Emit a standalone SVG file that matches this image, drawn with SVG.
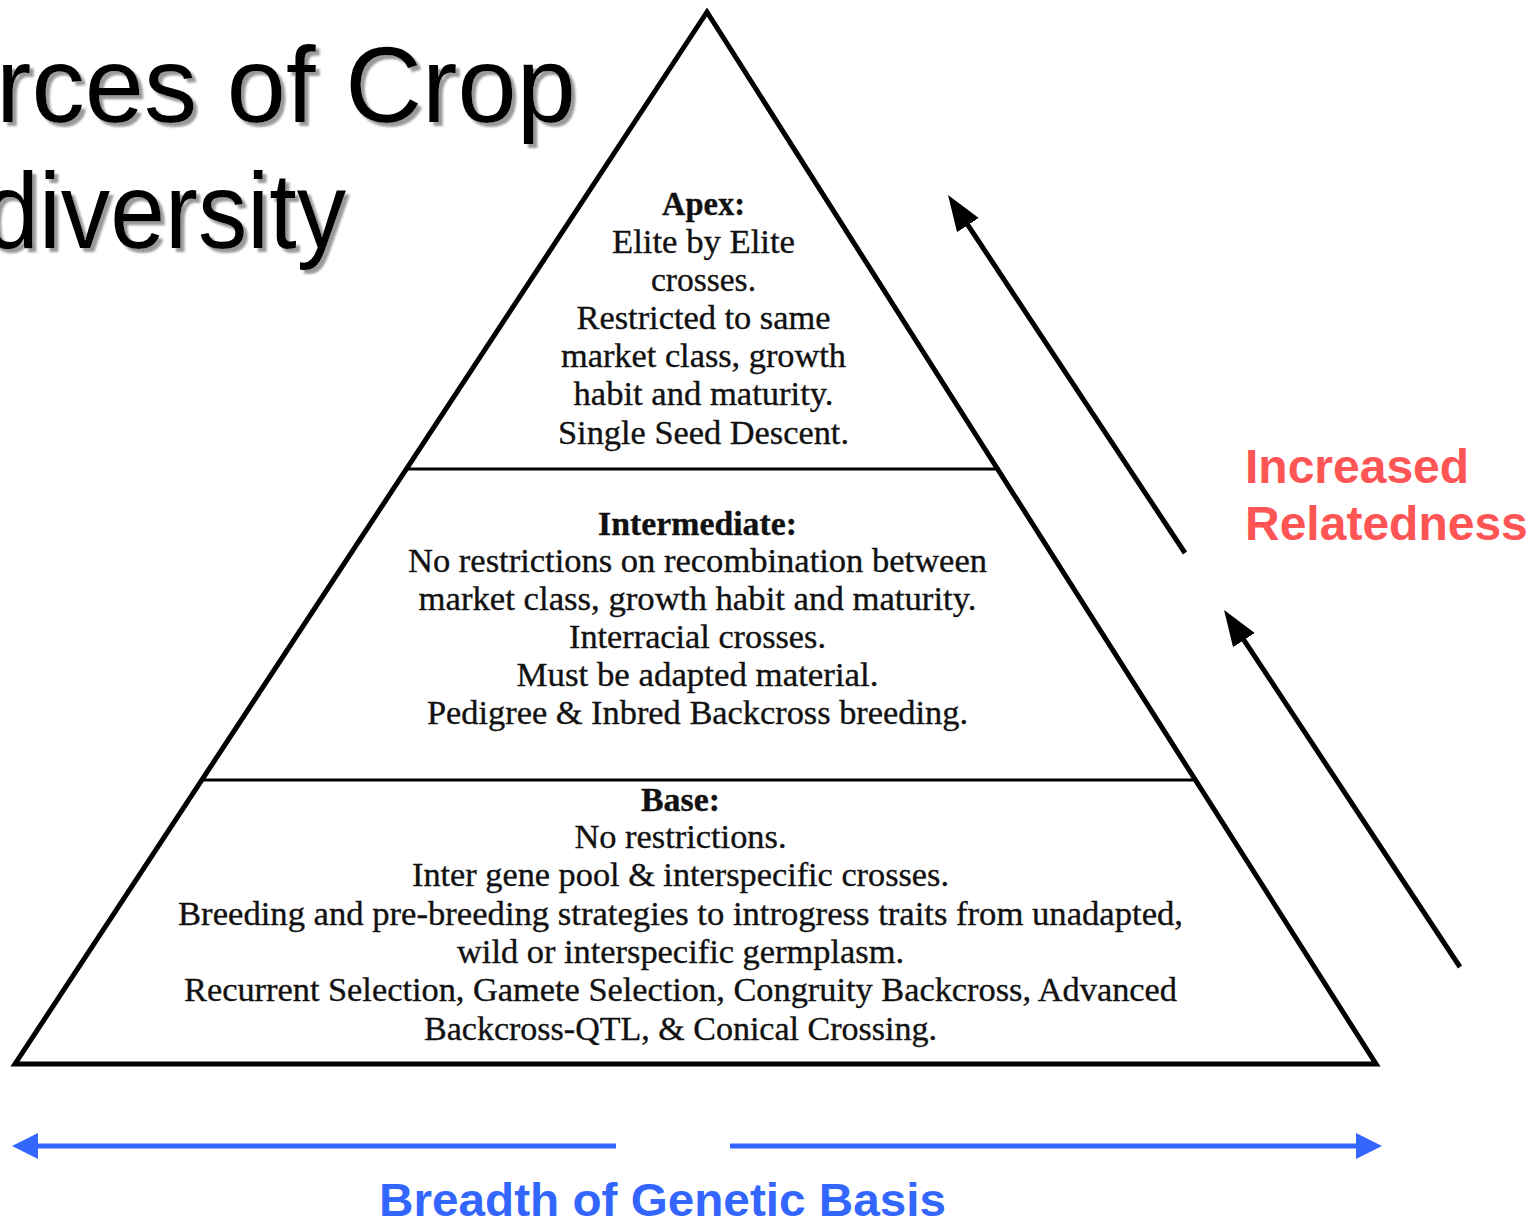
<svg xmlns="http://www.w3.org/2000/svg" width="1533" height="1224" viewBox="0 0 1533 1224">
<defs>
<style>
.title{font-family:"Liberation Sans",Arial,sans-serif;font-size:108px;fill:#000}
.ser{font-family:"Liberation Serif","Times New Roman",serif;font-size:34px;fill:#111;stroke:#111;stroke-width:0.35;text-anchor:middle}
.b{font-weight:bold}
.red{font-family:"Liberation Sans",Arial,sans-serif;font-size:48px;font-weight:bold;fill:#FF5555}
.blue{font-family:"Liberation Sans",Arial,sans-serif;font-size:47px;font-weight:bold;fill:#3366FF}
.edge{fill:none;stroke:#000;stroke-width:5;stroke-linejoin:miter}
.div{stroke:#000;stroke-width:3}
.karrow{stroke:#000;stroke-width:5;fill:none}
.barrow{stroke:#3366FF;stroke-width:5;fill:none}
</style>
<filter id="shadow" x="-10%" y="-10%" width="130%" height="140%">
<feDropShadow dx="4" dy="4" stdDeviation="0.8" flood-color="#9a9a9a" flood-opacity="1"/>
</filter>
<marker id="kHead" markerUnits="userSpaceOnUse" markerWidth="40" markerHeight="30" refX="2" refY="13" orient="auto">
<path d="M0,0 L36,13 L0,26 z" fill="#000"/>
</marker>
<marker id="bHead" markerUnits="userSpaceOnUse" markerWidth="30" markerHeight="30" refX="1" refY="13" orient="auto">
<path d="M0,0 L26,13 L0,26 z" fill="#3366FF"/>
</marker>
</defs>
<rect width="1533" height="1224" fill="#fff"/>

<g id="title" filter="url(#shadow)">
<text class="title" x="-4" y="122" textLength="580" lengthAdjust="spacingAndGlyphs">rces of Crop</text>
<text class="title" x="-16" y="248" textLength="362" lengthAdjust="spacingAndGlyphs">diversity</text>
</g>

<g id="pyramid">
<path class="edge" d="M707,12 L15,1064 L1376,1064 Z"/>
<line class="div" x1="406" y1="469" x2="1000" y2="469"/>
<line class="div" x1="200" y1="780" x2="1195" y2="780"/>
</g>

<g id="apex">
<text class="ser b" x="703.5" y="215" textLength="83" lengthAdjust="spacingAndGlyphs">Apex:</text>
<text class="ser" x="703.5" y="253" textLength="183" lengthAdjust="spacingAndGlyphs">Elite by Elite</text>
<text class="ser" x="703.5" y="291" textLength="105" lengthAdjust="spacingAndGlyphs">crosses.</text>
<text class="ser" x="703.5" y="329" textLength="254" lengthAdjust="spacingAndGlyphs">Restricted to same</text>
<text class="ser" x="703.5" y="367" textLength="285" lengthAdjust="spacingAndGlyphs">market class, growth</text>
<text class="ser" x="703.5" y="405" textLength="260" lengthAdjust="spacingAndGlyphs">habit and maturity.</text>
<text class="ser" x="703.5" y="444" textLength="291" lengthAdjust="spacingAndGlyphs">Single Seed Descent.</text>
</g>

<g id="intermediate">
<text class="ser b" x="697.5" y="535" textLength="199" lengthAdjust="spacingAndGlyphs">Intermediate:</text>
<text class="ser" x="697.5" y="572" textLength="579" lengthAdjust="spacingAndGlyphs">No restrictions on recombination between</text>
<text class="ser" x="697.5" y="610" textLength="558" lengthAdjust="spacingAndGlyphs">market class, growth habit and maturity.</text>
<text class="ser" x="697.5" y="648" textLength="257" lengthAdjust="spacingAndGlyphs">Interracial crosses.</text>
<text class="ser" x="697.5" y="686" textLength="362" lengthAdjust="spacingAndGlyphs">Must be adapted material.</text>
<text class="ser" x="697.5" y="724" textLength="541" lengthAdjust="spacingAndGlyphs">Pedigree &amp; Inbred Backcross breeding.</text>
</g>

<g id="base">
<text class="ser b" x="680.5" y="811" textLength="79" lengthAdjust="spacingAndGlyphs">Base:</text>
<text class="ser" x="680.5" y="848" textLength="212" lengthAdjust="spacingAndGlyphs">No restrictions.</text>
<text class="ser" x="680.5" y="886" textLength="537" lengthAdjust="spacingAndGlyphs">Inter gene pool &amp; interspecific crosses.</text>
<text class="ser" x="680.5" y="925" textLength="1005" lengthAdjust="spacingAndGlyphs">Breeding and pre-breeding strategies to introgress traits from unadapted,</text>
<text class="ser" x="680.5" y="963" textLength="447" lengthAdjust="spacingAndGlyphs">wild or interspecific germplasm.</text>
<text class="ser" x="680.5" y="1001" textLength="993" lengthAdjust="spacingAndGlyphs">Recurrent Selection, Gamete Selection, Congruity Backcross, Advanced</text>
<text class="ser" x="680.5" y="1040" textLength="513" lengthAdjust="spacingAndGlyphs">Backcross-QTL, &amp; Conical Crossing.</text>
</g>

<g id="relatedness-label">
<text class="red" x="1245" y="483">Increased</text>
<text class="red" x="1245" y="540">Relatedness</text>
</g>

<g id="breadth-label">
<text class="blue" x="379" y="1216" textLength="567" lengthAdjust="spacingAndGlyphs">Breadth of Genetic Basis</text>
</g>

<g id="connectors">
<line class="karrow" x1="1185" y1="553" x2="966.8" y2="223.4" marker-end="url(#kHead)"/>
<line class="karrow" x1="1460" y1="967" x2="1242.8" y2="638.4" marker-end="url(#kHead)"/>
<line class="barrow" x1="616" y1="1146" x2="37" y2="1146" marker-end="url(#bHead)"/>
<line class="barrow" x1="730" y1="1146" x2="1357" y2="1146" marker-end="url(#bHead)"/>
</g>
</svg>
